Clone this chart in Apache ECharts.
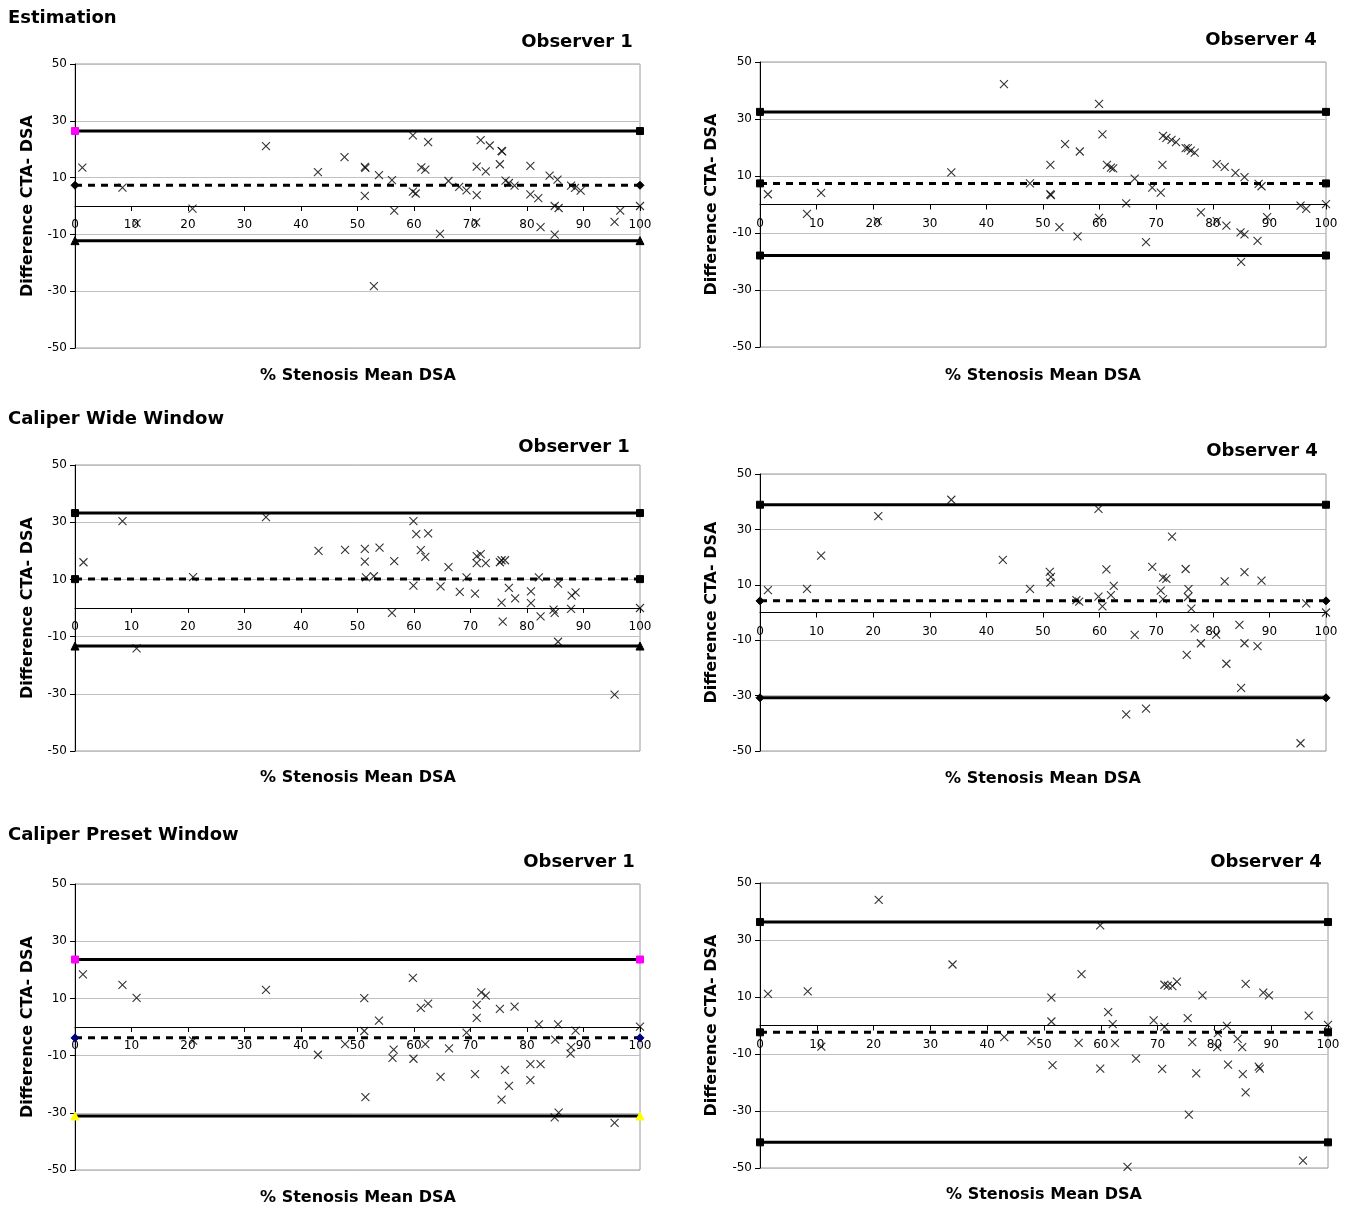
<!DOCTYPE html>
<html>
<head>
<meta charset="utf-8">
<script src="https://cdn.jsdelivr.net/npm/echarts@6/dist/echarts.min.js"></script>
<style>html,body{margin:0;padding:0;background:#fff}#c{width:1350px;height:1208px}</style>
</head>
<body>
<div id="c"></div>
<script>
// ---------- DATA ----------
const xTicks = [0,10,20,30,40,50,60,70,80,90,100];
const yTicks = [-50,-30,-10,10,30,50];

// Estimation, Observer 1
const est1X = [1.3,8.4,10.9,20.8,33.8,43,47.7,51.3,51.4,51.3,52.9,53.8,56.1,56.5,59.8,59.8,60.3,61.3,62,62.5,64.6,66.1,68,69.3,71,71.1,71.1,71.8,72.7,73.4,75.2,75.5,75.6,76.2,76.8,77.8,80.6,80.6,82,82.4,84,84.9,84.9,85.4,85.6,87.8,88.5,89.5,95.5,96.5,100];
const est1Y = [13.5,6.5,-6,-0.9,21.1,11.9,17.2,13.8,13.4,3.6,-28.2,10.9,9.1,-1.6,24.9,5.1,4.4,13.6,12.8,22.5,-9.8,8.8,6.7,5.5,-5.8,3.8,13.9,23.2,12.2,21.3,14.7,19.4,19.2,8.9,8.1,7.2,14.1,4.1,2.8,-7.4,10.7,0,-10.1,9.3,-0.7,7.2,6.4,5.4,-5.6,-1.6,0];
const est1Lim = [26.4,7.3,-12.2]; // upper, mean, lower

// Estimation, Observer 4
const est4X = [1.4,8.3,10.8,20.8,33.8,43.1,47.7,51.3,51.3,51.4,52.9,53.9,56.1,56.5,59.9,59.9,60.5,61.3,62,62.4,64.7,66.2,68.2,69.3,70.8,71.1,71.2,71.8,72.7,73.5,75.2,75.6,76.1,76.8,77.9,80.7,80.7,82.1,82.4,84,84.9,85,85.6,85.6,87.9,88.1,88.6,89.6,95.5,96.5,100];
const est4Y = [3.6,-3.3,4.1,-5.8,11.3,42.2,7.4,13.9,3.6,3.3,-7.9,21.2,-11.2,18.6,35.3,-4.7,24.6,13.9,12.9,12.7,0.4,9.1,-13.2,5.9,4.2,13.9,24.1,23.4,22.7,21.9,19.8,19.8,18.9,18.2,-2.8,14.2,-5.8,13.2,-7.4,11.1,-9.8,-20.1,9.6,-10.5,-12.8,7.2,6.4,-4.4,-0.4,-1.5,0.1];
const est4Lim = [32.5,7.4,-17.9];

// Caliper Wide Window, Observer 1
const wide1X = [1.5,8.4,10.9,20.9,33.8,43.1,47.8,51.3,51.3,51.5,52.9,53.9,56.1,56.5,59.9,59.9,60.4,61.2,62,62.5,64.7,66.1,68.1,69.3,70.8,71.1,71.1,71.8,72.7,75.2,75.5,75.7,75.5,76.1,76.8,77.9,80.7,80.7,82.1,82.4,84.7,84.9,85.5,85.5,87.8,87.9,88.6,95.5,100];
const wide1Y = [16.0,30.4,-14.1,10.8,31.8,20.0,20.3,20.7,16.2,10.7,11.1,21.1,-1.7,16.4,30.4,7.8,25.8,20.2,17.9,26.1,7.6,14.3,5.6,10.7,5.0,18.1,15.7,18.8,15.7,16.0,1.9,-4.8,16.7,16.7,7.0,3.4,5.8,1.7,10.7,-2.9,-0.6,-1.7,8.5,-11.8,-0.3,4.3,5.5,-30.3,0];
const wide1Lim = [33.2,10.1,-13.3];

// Caliper Wide Window, Observer 4
const wide4X = [1.4,8.3,10.8,20.9,33.8,42.9,47.7,51.2,51.4,51.3,55.9,56.4,59.8,59.8,60.5,61.2,62,62.5,64.7,66.2,68.2,69.3,70.8,71.2,71.2,71.8,72.8,75.2,75.4,75.6,75.7,76.2,76.8,77.9,80.6,82.1,82.4,84.7,85,85.6,85.6,87.9,88.6,95.5,96.5,100];
const wide4Y = [8.1,8.5,20.5,34.8,40.7,19.0,8.5,14.7,12.9,10.8,4.5,3.9,37.4,5.7,2.2,15.6,6.3,9.6,-36.8,-8.1,-34.7,16.5,7.9,4.8,12.6,12.1,27.4,15.7,-15.3,5.6,8.4,1.4,-5.7,-11.1,-8.0,11.2,-18.5,-4.5,-27.2,14.6,-11.1,-12.1,11.5,-47.2,3.3,0];
const wide4Lim = [38.9,4.2,-30.8];

// Caliper Preset Window, Observer 1
const pre1X = [1.4,8.4,10.9,20.9,33.8,43.0,47.8,51.2,51.2,51.4,53.8,56.2,56.4,59.8,59.9,61.2,62,62.5,64.7,66.2,69.3,70.8,71.1,71.1,71.9,72.7,75.2,75.5,76.1,76.8,77.8,80.6,80.6,82.1,82.4,84.9,85.0,85.5,85.6,87.7,87.8,88.6,95.5,100];
const pre1Y = [18.4,14.7,10.2,-4.8,13.0,-9.7,-6.0,10.1,-1.4,-24.5,2.2,-10.8,-7.9,17.2,-11.1,6.7,-6.0,8.2,-17.4,-7.5,-2.0,-16.5,3.2,7.7,12.1,11.0,6.3,-25.4,-15.0,-20.6,7.1,-13.0,-18.6,0.9,-13.0,-31.6,-4.4,0.9,-29.9,-9.3,-7.0,-1.3,-33.5,0.1];
const pre1Lim = [23.6,-3.8,-31.1];

// Caliper Preset Window, Observer 4
const pre4X = [1.4,8.4,10.8,20.9,33.9,43.0,47.8,51.3,51.3,51.5,56.1,56.6,59.9,59.9,61.3,62.1,62.5,64.7,66.2,69.3,70.8,71.2,71.2,71.8,72.6,73.4,75.3,75.5,76.1,76.8,77.9,80.6,80.5,82.2,82.4,84.1,84.9,85.0,85.5,85.5,87.8,88.0,88.6,89.6,95.6,96.6,100];
const pre4Y = [11.1,12.0,-7.4,44.1,21.4,-4.1,-5.5,9.8,1.4,-13.9,-6.1,18.0,35.1,-15.1,4.7,0.5,-6.2,-49.6,-11.6,1.8,-15.2,-0.5,14.3,14.0,13.8,15.4,2.6,-31.3,-5.8,-16.8,10.6,-2.7,-7.6,-0.1,-13.7,-4.7,-7.6,-17.1,14.6,-23.5,-14.4,-15.1,11.5,10.6,-47.4,3.5,0.2];
const pre4Lim = [36.3,-2.4,-41.0];

// ---------- TEXT ----------
const sectionTitles = ['Estimation','Caliper Wide Window','Caliper Preset Window'];
const observerTitles = ['Observer 1','Observer 4'];
const xName = '% Stenosis Mean DSA';
const yName = 'Difference CTA- DSA';

// ---------- LAYOUT / STYLE ----------
const B = '#000000', MAG = '#ff00ff', NAVY = '#000080', YEL = '#ffff00';
const panels = [
  {g:{left:75,top:64,width:565,height:284}, x:est1X, y:est1Y, lim:est1Lim,
   mk:[['rect',MAG,B],['diamond',B,B],['triangle',B,B]]},
  {g:{left:760,top:62,width:566,height:285}, x:est4X, y:est4Y, lim:est4Lim,
   mk:[['rect',B,B],['rect',B,B],['rect',B,B]]},
  {g:{left:75,top:465,width:565,height:286}, x:wide1X, y:wide1Y, lim:wide1Lim,
   mk:[['rect',B,B],['rect',B,B],['triangle',B,B]]},
  {g:{left:760,top:474,width:566,height:277}, x:wide4X, y:wide4Y, lim:wide4Lim,
   mk:[['rect',B,B],['diamond',B,B],['diamond',B,B]]},
  {g:{left:75,top:884,width:565,height:286}, x:pre1X, y:pre1Y, lim:pre1Lim,
   mk:[['rect',MAG,MAG],['diamond',NAVY,NAVY],['triangle',YEL,YEL]]},
  {g:{left:760,top:883,width:568,height:285}, x:pre4X, y:pre4Y, lim:pre4Lim,
   mk:[['rect',B,B],['rect',B,B],['rect',B,B]]}
];

const FONT = '"DejaVu Sans", Arial, sans-serif';
const grids = [], xAxes = [], yAxes = [], series = [];
const symSize = {rect:7, diamond:8, triangle:8};

panels.forEach((p, i) => {
  grids.push(Object.assign({show:true, borderColor:'#9a9a9a', borderWidth:1, backgroundColor:'transparent'}, p.g));
  // y range is symmetric about 0, so shifting the x axis up by half the plot height puts it on y = 0
  xAxes.push({
    type:'value', gridIndex:i, position:'bottom', offset:-p.g.height/2,
    min:xTicks[0], max:xTicks[xTicks.length-1], interval:xTicks[1]-xTicks[0],
    axisLine:{show:true, onZero:false, lineStyle:{color:'#000', width:1}},
    axisTick:{show:true, length:5, lineStyle:{color:'#000'}},
    axisLabel:{show:true, margin:13, color:'#000', fontSize:12, fontFamily:FONT},
    splitLine:{show:false}
  });
  yAxes.push({
    type:'value', gridIndex:i, min:yTicks[0], max:yTicks[yTicks.length-1], interval:yTicks[1]-yTicks[0],
    name:yName, nameLocation:'middle', nameGap:i%2===0?39:40, nameRotate:90,
    nameTextStyle:{fontSize:16, fontWeight:'bold', color:'#000', fontFamily:FONT},
    axisLine:{show:true, onZero:false, lineStyle:{color:'#000', width:1}},
    axisTick:{show:true, length:5, lineStyle:{color:'#000'}},
    axisLabel:{show:true, margin:8, color:'#000', fontSize:12, fontFamily:FONT},
    splitLine:{show:true, lineStyle:{color:'#c0c0c0', width:1}}
  });
  // limit lines: upper, mean, lower
  p.lim.forEach((v, k) => {
    const m = p.mk[k];
    series.push({
      type:'line', xAxisIndex:i, yAxisIndex:i, clip:false, silent:true,
      symbol:m[0], symbolSize:symSize[m[0]], showAllSymbol:true,
      lineStyle:{color:'#000', width:3, type: k===1 ? [7,6] : 'solid'},
      data:[
        {value:[xTicks[0], v], itemStyle:{color:m[1], borderColor:m[1]}},
        {value:[xTicks[xTicks.length-1], v], itemStyle:{color:m[2], borderColor:m[2]}}
      ],
      z:2
    });
  });
  series.push({
    type:'scatter', xAxisIndex:i, yAxisIndex:i, clip:false, silent:true,
    symbol:'path://M0,0L10,10M10,0L0,10', symbolSize:8,
    itemStyle:{color:'rgba(0,0,0,0)', borderColor:'#000', borderWidth:1.1},
    data:p.x.map((xv, j) => [xv, p.y[j]]),
    z:3
  });
});

// static texts
const txt = (text, x, y, size, align) => ({
  type:'text', x:x, y:y, silent:true,
  style:{text:text, fill:'#000', font:'bold '+size+'px '+FONT, textAlign:align, textVerticalAlign:'middle'}
});
const graphics = [
  txt(sectionTitles[0], 8, 18, 18, 'left'),
  txt(sectionTitles[1], 8, 419, 18, 'left'),
  txt(sectionTitles[2], 8, 835, 18, 'left'),
  txt(observerTitles[0], 577, 42, 18, 'center'),
  txt(observerTitles[1], 1261, 40, 18, 'center'),
  txt(observerTitles[0], 574, 447, 18, 'center'),
  txt(observerTitles[1], 1262, 451, 18, 'center'),
  txt(observerTitles[0], 579, 862, 18, 'center'),
  txt(observerTitles[1], 1266, 862, 18, 'center'),
  txt(xName, 358, 376, 16, 'center'),
  txt(xName, 1043, 376, 16, 'center'),
  txt(xName, 358, 778, 16, 'center'),
  txt(xName, 1043, 779, 16, 'center'),
  txt(xName, 358, 1198, 16, 'center'),
  txt(xName, 1044, 1195, 16, 'center')
];

const chart = echarts.init(document.getElementById('c'), null, {renderer:'canvas'});
chart.setOption({
  animation:false,
  backgroundColor:'#ffffff',
  grid:grids, xAxis:xAxes, yAxis:yAxes, series:series, graphic:graphics
});
</script>
</body>
</html>
